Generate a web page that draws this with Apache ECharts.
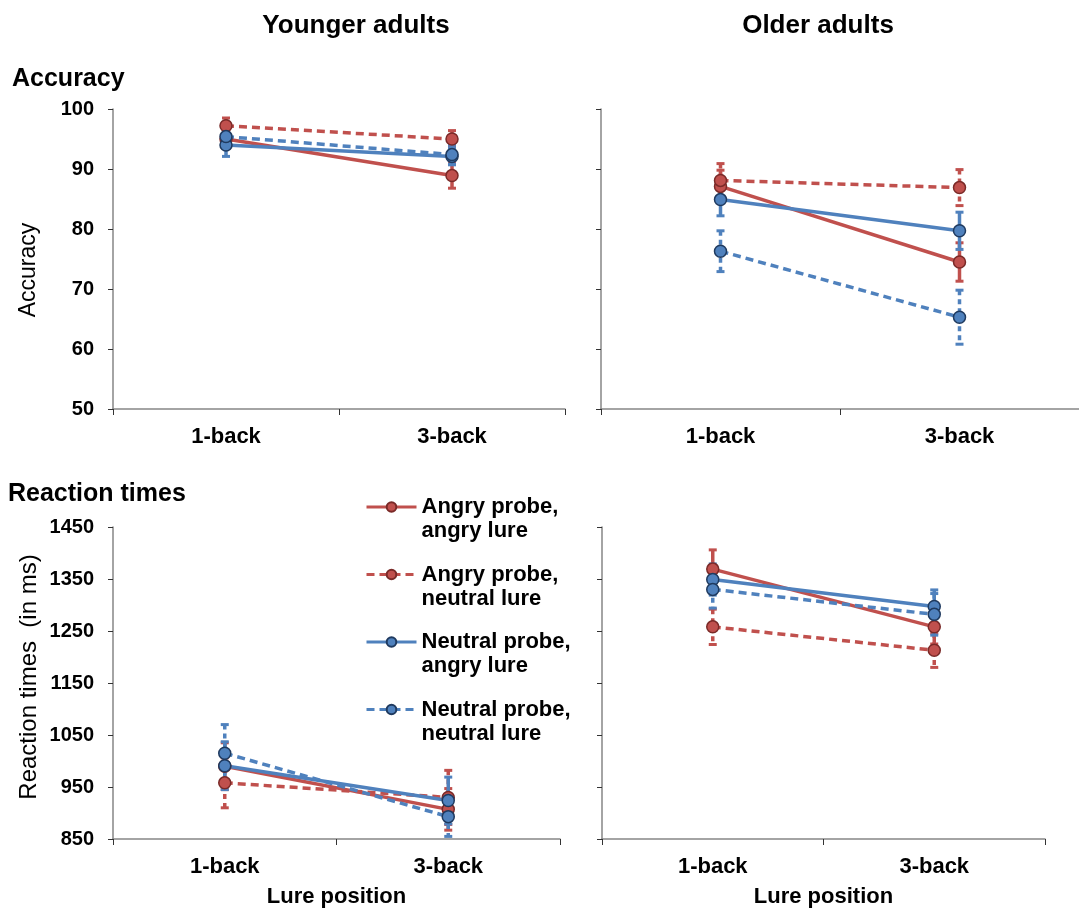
<!DOCTYPE html>
<html><head><meta charset="utf-8">
<script src="https://cdn.jsdelivr.net/npm/echarts@6/dist/echarts.min.js"></script>
<style>html,body{margin:0;padding:0;background:#fff}#c{width:1079px;height:909px}</style>
</head><body><div id="c"></div>
<script>
const categories = ['1-back', '3-back'];
const seriesNames = ['Angry probe,\nangry lure', 'Angry probe,\nneutral lure', 'Neutral probe,\nangry lure', 'Neutral probe,\nneutral lure'];

// Younger adults, accuracy (mean, error)
const youngAccAA = [95.0, 88.9], youngAccAAErr = [1.5, 2.1];
const youngAccAN = [97.2, 95.0], youngAccANErr = [1.3, 1.4];
const youngAccNA = [94.0, 92.1], youngAccNAErr = [1.9, 1.4];
const youngAccNN = [95.4, 92.4], youngAccNNErr = [1.3, 1.6];
// Older adults, accuracy
const oldAccAA = [87.1, 74.5], oldAccAAErr = [2.7, 3.2];
const oldAccAN = [88.1, 86.9], oldAccANErr = [2.8, 3.0];
const oldAccNA = [84.9, 79.7], oldAccNAErr = [2.7, 3.1];
const oldAccNN = [76.3, 65.3], oldAccNNErr = [3.4, 4.5];
// Younger adults, reaction times
const youngRtAA = [990, 907], youngRtAAErr = [45, 40];
const youngRtAN = [958, 930], youngRtANErr = [48, 52];
const youngRtNA = [991, 924], youngRtNAErr = [46, 45];
const youngRtNN = [1015, 893], youngRtNNErr = [55, 38];
// Older adults, reaction times
const oldRtAA = [1369, 1258], oldRtAAErr = [37, 33];
const oldRtAN = [1258, 1213], oldRtANErr = [34, 33];
const oldRtNA = [1349, 1297], oldRtNAErr = [30, 32];
const oldRtNN = [1330, 1282], oldRtNNErr = [36, 40];

const accTicks = {min: 50, max: 100, interval: 10};
const rtTicks = {min: 850, max: 1450, interval: 100};

const RED = '#C0504D', BLUE = '#4F81BD';
const styles = [
  {color: RED, border: '#7a2a28', dash: 'solid'},
  {color: RED, border: '#7a2a28', dash: [8, 5]},
  {color: BLUE, border: '#1f3a5f', dash: 'solid'},
  {color: BLUE, border: '#1f3a5f', dash: [8, 5]}
];
const panels = [
  {means: [youngAccAA, youngAccAN, youngAccNA, youngAccNN], errs: [youngAccAAErr, youngAccANErr, youngAccNAErr, youngAccNNErr]},
  {means: [oldAccAA, oldAccAN, oldAccNA, oldAccNN], errs: [oldAccAAErr, oldAccANErr, oldAccNAErr, oldAccNNErr]},
  {means: [youngRtAA, youngRtAN, youngRtNA, youngRtNN], errs: [youngRtAAErr, youngRtANErr, youngRtNAErr, youngRtNNErr]},
  {means: [oldRtAA, oldRtAN, oldRtNA, oldRtNN], errs: [oldRtAAErr, oldRtANErr, oldRtNAErr, oldRtNNErr]}
];

const FONT = '"Liberation Sans", Arial, sans-serif';
const AXIS_COLOR = '#868686';

const grids = [
  {left: 113, top: 109, width: 452, height: 300},
  {left: 601, top: 109, width: 480, height: 300},
  {left: 113, top: 527, width: 447, height: 312},
  {left: 602, top: 527, width: 443, height: 312}
];

const xAxes = grids.map((g, i) => ({
  type: 'category', gridIndex: i, data: categories, boundaryGap: true,
  axisLine: {lineStyle: {color: AXIS_COLOR, width: 1.5}},
  axisTick: {show: true, length: 6, lineStyle: {color: '#333'}},
  axisLabel: {fontFamily: FONT, fontWeight: 'bold', fontSize: 22, color: '#000', margin: 17},
  name: i >= 2 ? 'Lure position' : '', nameLocation: 'middle', nameGap: 47,
  nameTextStyle: {fontFamily: FONT, fontWeight: 'bold', fontSize: 22, color: '#000'},
  splitLine: {show: false}
}));
const yAxes = grids.map((g, i) => {
  const t = i < 2 ? accTicks : rtTicks;
  return {
    type: 'value', gridIndex: i, min: t.min, max: t.max, interval: t.interval,
    axisLine: {show: true, lineStyle: {color: AXIS_COLOR, width: 1.5}},
    axisTick: {show: true, length: 5, lineStyle: {color: '#333'}},
    axisLabel: {show: i % 2 === 0, fontFamily: FONT, fontWeight: 'bold', fontSize: 20, color: '#000', margin: 19,
      formatter: v => String(v)},
    splitLine: {show: false}
  };
});

const series = [];
panels.forEach((p, gi) => {
  p.means.forEach((m, si) => {
    const st = styles[si];
    series.push({
      name: 'err-' + si, type: 'custom', xAxisIndex: gi, yAxisIndex: gi,
      data: m.map((v, k) => [k, v, p.errs[si][k]]),
      z: 2, silent: true, itemStyle: {color: st.color},
      renderItem: function (params, api) {
        const x = api.value(0), y = api.value(1), e = api.value(2);
        const top = api.coord([x, y + e]);
        const bot = api.coord([x, y - e]);
        const hw = 4;
        const style = {stroke: st.color, lineWidth: 3.5, lineDash: st.dash === 'solid' ? null : [5, 4]};
        return {type: 'group', children: [
          {type: 'line', shape: {x1: top[0], y1: top[1], x2: bot[0], y2: bot[1]}, style: style},
          {type: 'line', shape: {x1: top[0] - hw, y1: top[1], x2: top[0] + hw, y2: top[1]}, style: {stroke: st.color, lineWidth: 3}},
          {type: 'line', shape: {x1: bot[0] - hw, y1: bot[1], x2: bot[0] + hw, y2: bot[1]}, style: {stroke: st.color, lineWidth: 3}}
        ]};
      }
    });
  });
  p.means.forEach((m, si) => {
    const st = styles[si];
    series.push({
      name: seriesNames[si], type: 'line', xAxisIndex: gi, yAxisIndex: gi,
      data: m, z: 3, symbol: 'circle', symbolSize: 12, showSymbol: true,
      lineStyle: {color: st.color, width: 3.5, type: st.dash},
      itemStyle: {color: st.color, borderColor: st.border, borderWidth: 1.5},
      color: st.color, animation: false
    });
  });
});

const chart = echarts.init(document.getElementById('c'), null, {renderer: 'canvas'});
chart.setOption({
  animation: false,
  backgroundColor: '#fff',
  title: [
    {text: 'Younger adults', left: 351, top: 8, textAlign: 'center', textStyle: {fontFamily: FONT, fontWeight: 'bold', fontSize: 26, color: '#000'}},
    {text: 'Older adults', left: 813, top: 8, textAlign: 'center', textStyle: {fontFamily: FONT, fontWeight: 'bold', fontSize: 26, color: '#000'}},
    {text: 'Accuracy', left: 7, top: 62, textStyle: {fontFamily: FONT, fontWeight: 'bold', fontSize: 25, color: '#000'}},
    {text: 'Reaction times', left: 3, top: 477, textStyle: {fontFamily: FONT, fontWeight: 'bold', fontSize: 25, color: '#000'}}
  ],
  legend: {
    data: seriesNames,
    orient: 'vertical', left: 360, top: 466, itemWidth: 50, itemHeight: 12, itemGap: -4.5,
    formatter: name => '\n' + name,
    lineStyle: {width: 3},
    textStyle: {fontFamily: FONT, fontWeight: 'bold', fontSize: 22, color: '#000', lineHeight: 24},
    selectedMode: false
  },
  graphic: [
    {type: 'text', x: 29, y: 270, rotation: Math.PI / 2, style: {text: 'Accuracy', fill: '#000', font: '23px ' + FONT, textAlign: 'center', textVerticalAlign: 'middle'}},
    {type: 'text', x: 29, y: 677, rotation: Math.PI / 2, style: {text: 'Reaction times  (in ms)', fill: '#000', font: '24px ' + FONT, textAlign: 'center', textVerticalAlign: 'middle'}}
  ],
  grid: grids,
  xAxis: xAxes,
  yAxis: yAxes,
  series: series
});
</script></body></html>
